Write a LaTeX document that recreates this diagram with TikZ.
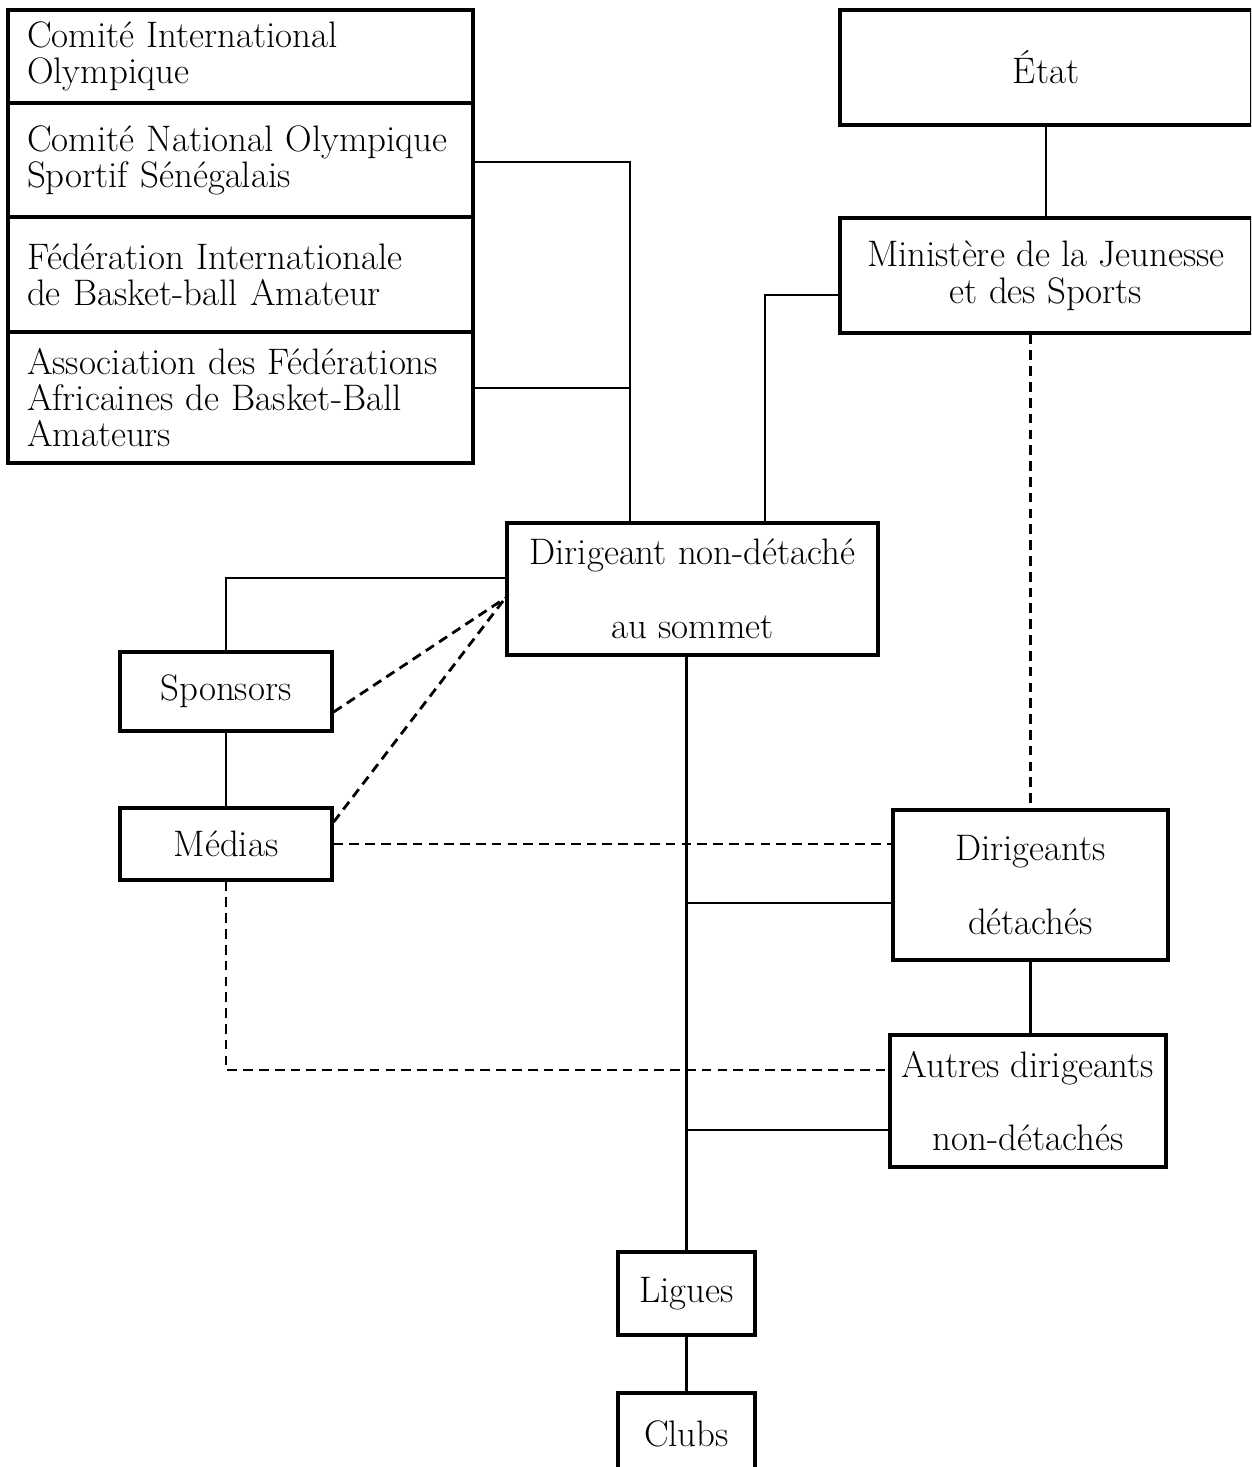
\documentclass[tikz,border=0pt]{standalone}
\usepackage{fontspec}
\usetikzlibrary{positioning,calc}
\tikzset{
  box/.style   ={draw,line width=1.9pt,align=center,inner sep=0pt,
                 font=\fontsize{21}{21}\selectfont},
  wide/.style  ={box,font=\fontsize{21}{42}\selectfont},
  stack/.style ={draw,line width=1.9pt,align=left,outer sep=0pt,inner ysep=0pt,
                 text width=8.54cm,inner xsep=0.38cm,font=\fontsize{21}{20.5}\selectfont},
  ln/.style    ={line width=1.5pt},
  dsh/.style   ={line width=1.6pt,dash pattern=on 5.5pt off 3.5pt},
}

\begin{document}
\begin{tikzpicture}[x=0.02cm,y=-0.02cm]
\clip (0,0) rectangle (1251,1467);
\node[stack,minimum height=1.86cm] (CIO) at (240.5,56.5) {Comité International\\Olympique};
\node[stack,minimum height=2.28cm,below=0pt of CIO] (CNO) {Comité National Olympique\\Sportif Sénégalais};
\node[stack,minimum height=2.3cm,below=0pt of CNO] (FIB) {Fédération Internationale\\de Basket-ball Amateur};
\node[stack,minimum height=2.62cm,below=0pt of FIB] (AFA) {Association des Fédérations\\Africaines de Basket-Ball\\Amateurs};
\node[box,minimum width=8.24cm,minimum height=2.3cm] (ETA) at (1046,67.5) {État};
\node[box,minimum width=8.24cm,minimum height=2.3cm] (MIN) at (1046,275.5) {Ministère de la Jeunesse\\et des Sports};
\node[wide,minimum width=7.42cm,minimum height=2.64cm] (DIR) at (692.5,589) {Dirigeant non-détaché\\au sommet};
\node[box,minimum width=4.24cm,minimum height=1.58cm] (SPO) at (226,691.5) {Sponsors};
\node[box,minimum width=4.24cm,minimum height=1.44cm] (MED) at (226,844) {Médias};
\node[wide,minimum width=5.5cm,minimum height=3cm] (DDE) at (1030.5,885) {Dirigeants\\détachés};
\node[wide,minimum width=5.52cm,minimum height=2.64cm] (AUT) at (1028,1101) {Autres dirigeants\\non-détachés};
\node[box,minimum width=2.74cm,minimum height=1.66cm] (LIG) at (686.5,1293.5) {Ligues};
\node[box,minimum width=2.74cm,minimum height=1.64cm] (CLU) at (686.5,1434) {Clubs};
\coordinate (jL) at (630,523);
\coordinate (jR) at (765,523);
\draw[ln] ([yshift=-0.04cm]CNO.east) -| (jL);
\draw[ln] ([yshift=0.19cm]AFA.east) -| (jL);
\draw[ln] ([yshift=-0.39cm]MIN.west) -| (jR);
\draw[ln] (ETA) -- (MIN);
\draw[dsh] (MIN.south -| DDE.north) -- (DDE.north);
\draw[ln] ([yshift=0.22cm]DIR.west) -| (SPO.north);
\draw[ln] (SPO) -- (MED);
\draw[dsh] ([yshift=-0.41cm]SPO.east) -- ([yshift=-0.18cm]DIR.west);
\draw[dsh] ([yshift=0.44cm]MED.east) -- ([yshift=-0.18cm]DIR.west);
\draw[dsh] (MED.east) -- (MED.east -| DDE.west);
\draw[dsh] (MED.south) |- ([yshift=0.62cm]AUT.west);
\draw[ln] (DIR.south -| LIG.north) -- (LIG.north);
\draw[ln] ([yshift=-0.36cm]DDE.west) -| (LIG.north);
\draw[ln] ([yshift=-0.58cm]AUT.west) -| (LIG.north);
\draw[ln] (DDE.south) -- (DDE.south |- AUT.north);
\draw[ln] (LIG) -- (CLU);
\end{tikzpicture}
\end{document}
